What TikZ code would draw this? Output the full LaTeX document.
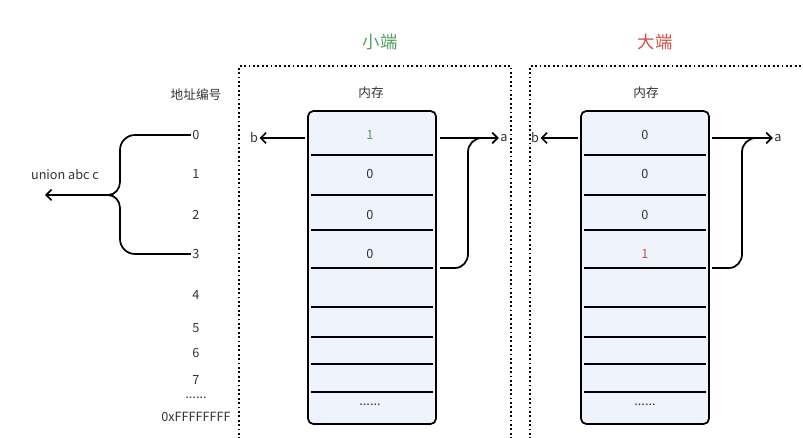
\documentclass[tikz,border=0pt]{standalone}
\usepackage{fontspec}
\setmainfont{Noto Sans CJK SC}
\usetikzlibrary{arrows.meta}
\begin{document}
\begin{tikzpicture}[x=0.75pt,y=-0.75pt,
  txt/.style={font=\fontsize{9.5}{11}\selectfont,text=black!80,inner sep=1pt},
  ttl/.style={font=\fontsize{13}{15}\selectfont},
  ln/.style={line width=1.3pt},
  arr/.style={line width=1.3pt,-{Straight Barb[length=4pt,width=8pt]}},
  dot/.style={dotted,line width=1.3pt}]
\useasboundingbox (0,0) rectangle (803,438);
\fill[white] (0,0) rectangle (803,438);
% dotted frames
\draw[dot] (239,448) |- (511,66) -- (511,448);
\draw[dot] (530,448) |- (803,66);
\node[ttl,text={rgb,255:red,80;green,160;blue,90}] (t1) at (380,42) {小端};
\node[ttl,text={rgb,255:red,210;green,80;blue,70}] (t2) at (655,42) {大端};
\node[txt] (addr) at (196,95) {地址编号};
\node[txt] (m1) at (371,93) {内存};
\node[txt] (m2) at (646,93) {内存};
% address labels
\foreach \n/\y in {0/135,1/174,2/215,3/254,4/295,5/328,6/353,7/380}
  \node[txt] (ad\n) at (196,\y) {\n};
\node[txt] (adots) at (196,398) {......};
\node[txt] (afff) at (196,417) {0xFFFFFFFF};
% memory boxes
\foreach \x/\nm in {308/L,581/R}{
  \draw[line width=1.3pt,fill={rgb,255:red,238;green,243;blue,252},rounded corners=4pt] (\x,111) rectangle (\x+128,424);
  \foreach \yy in {155,195,230,268,307,337,364,392}
    \draw[ln] (\x+3,\yy) -- (\x+125,\yy);
}
\foreach \v/\y in {0/174,0/215,0/254} \node[txt] at (370,\y) {\v};
\node[txt,text={rgb,255:red,80;green,160;blue,90}] (l1) at (370,135) {1};
\node[txt] (ldots) at (370,405) {......};
\foreach \v/\y in {0/135,0/174,0/215} \node[txt] at (645,\y) {\v};
\node[txt,text={rgb,255:red,210;green,80;blue,70}] (r1) at (645,254) {1};
\node[txt] (rdots) at (645,405) {......};
% brace
\node[txt] (u) at (65,175) {union abc c};
\coordinate (bl) at (45,195);
\draw[ln] (ad0.west) -- (135,135) to[out=180,in=90] (120,150) -- (120,182) to[out=-90,in=0] (108,195);
\draw[ln] (ad3.west) -- (135,254) to[out=180,in=-90] (120,239) -- (120,208) to[out=90,in=0] (108,195);
\draw[arr] (108,195) -- (bl);
% b / a arrows
\node[txt] (bL) at (254,138) {b};
\node[txt] (aL) at (504,138) {a};
\node[txt] (bR) at (535,138) {b};
\node[txt] (aR) at (778,138) {a};
\draw[arr] (305,138) -- (bL);
\draw[arr] (440,138) -- (aL);
\draw[ln] (440,268) -- (455,268) to[out=0,in=-90] (468,254) -- (468,152) to[out=90,in=180] (482,138);
\draw[arr] (578,138) -- (bR);
\draw[arr] (712,138) -- (aR);
\draw[ln] (712,268) -- (729,268) to[out=0,in=-90] (742,254) -- (742,152) to[out=90,in=180] (756,138);
\end{tikzpicture}
\end{document}
